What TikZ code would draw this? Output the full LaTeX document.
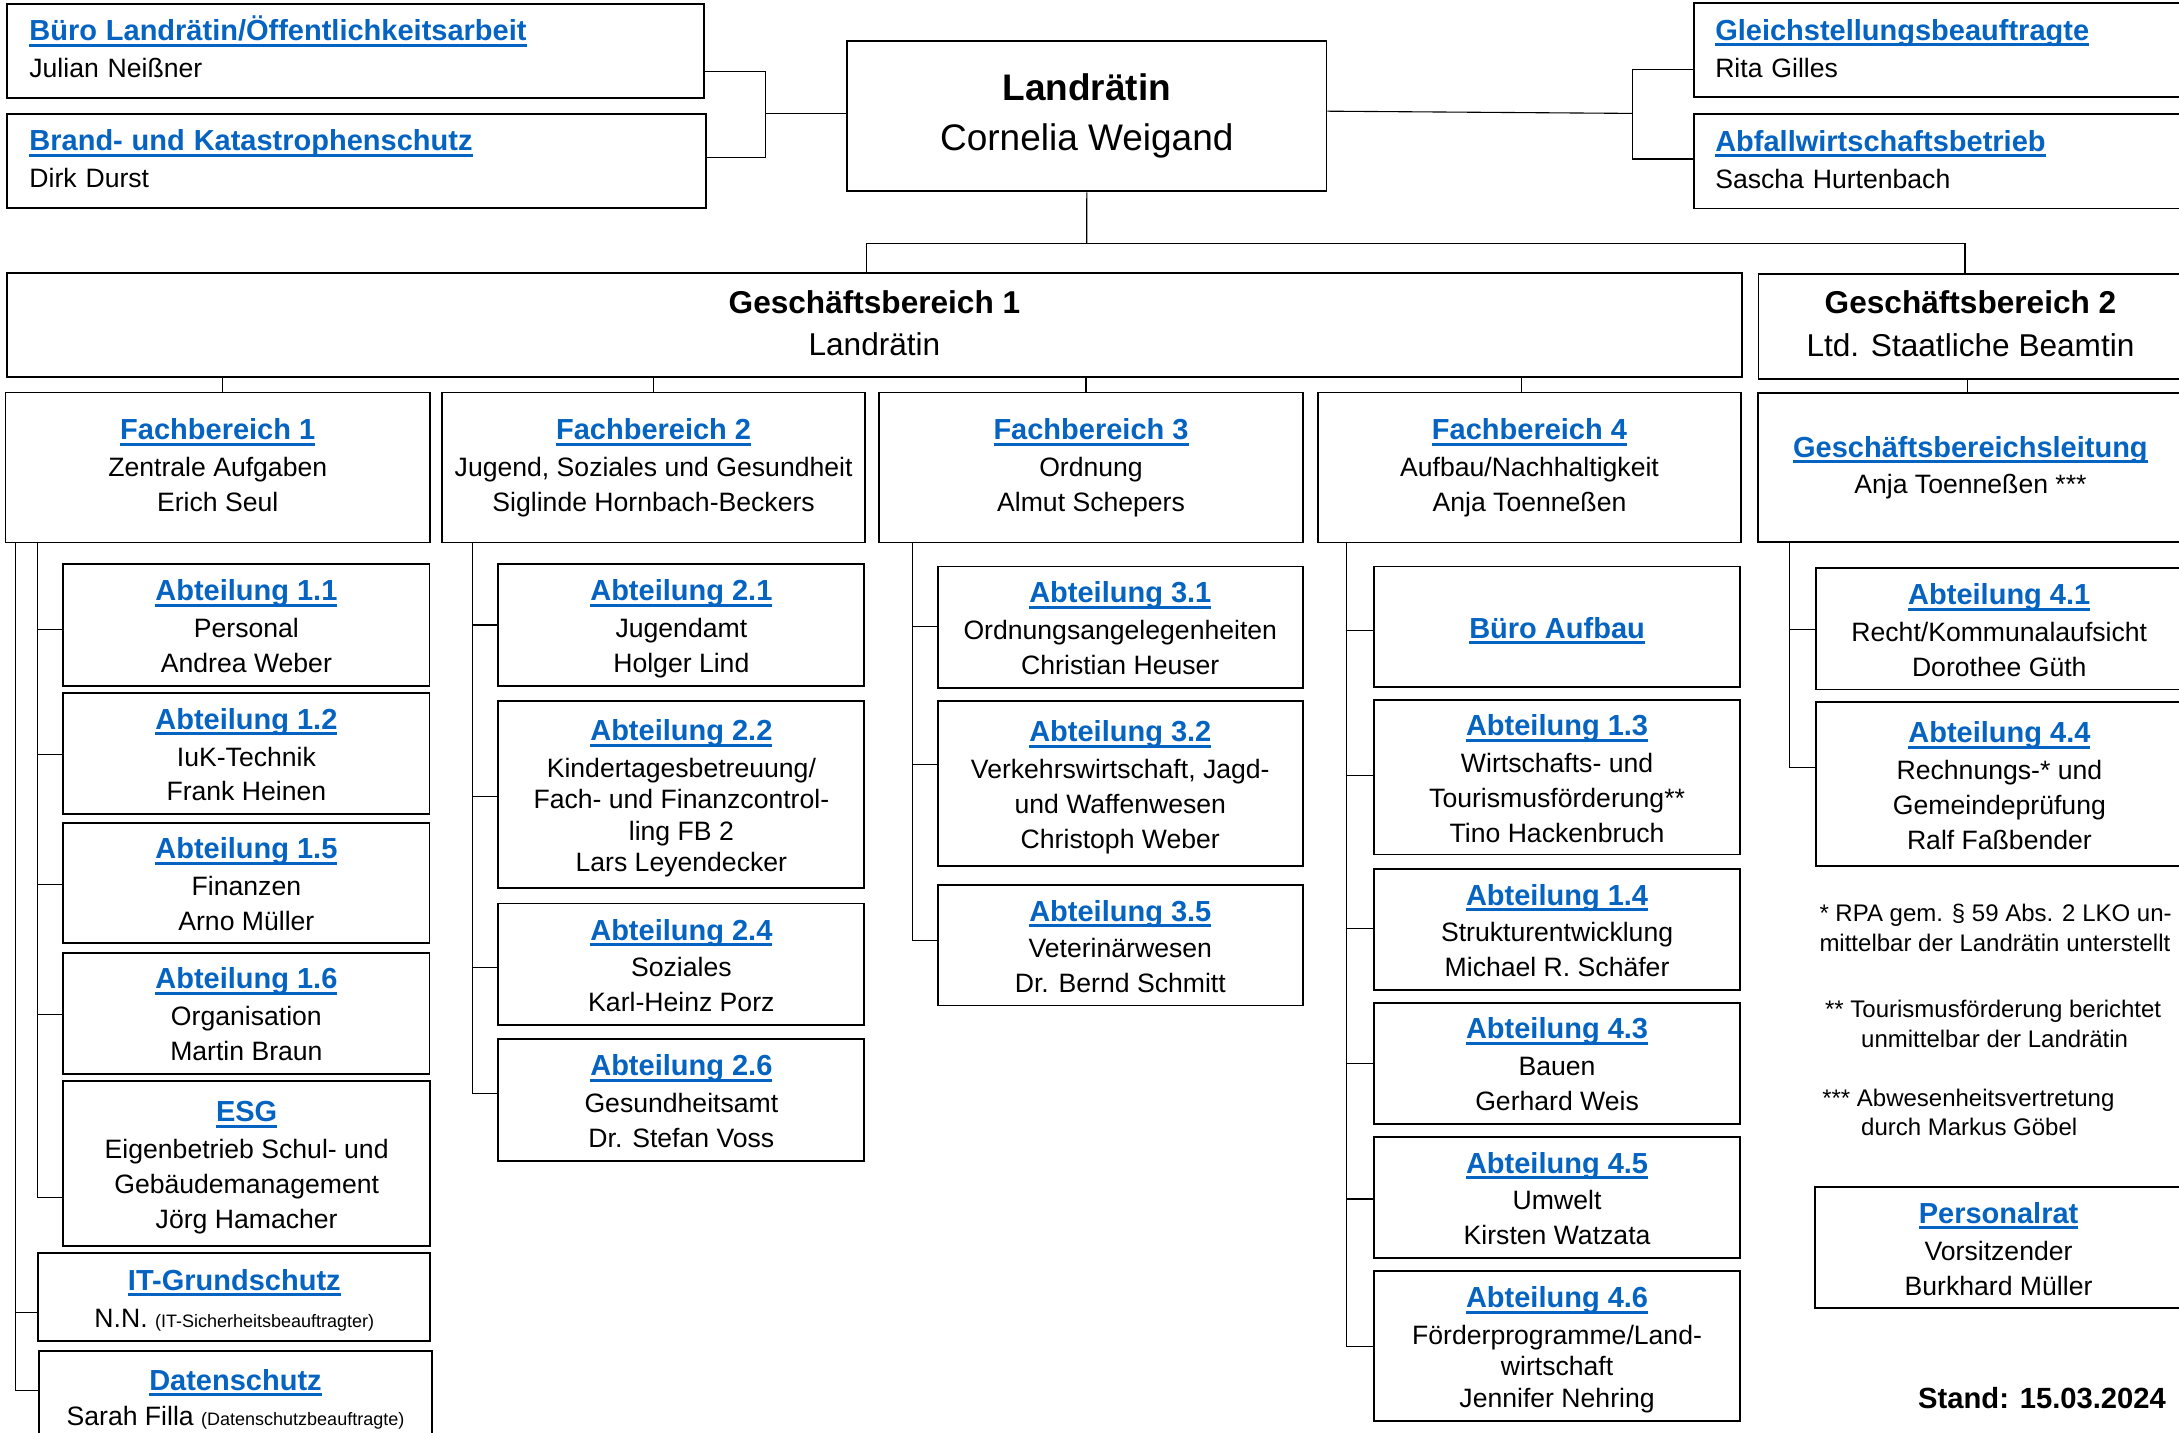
\documentclass[tikz,border=0pt]{standalone}
\usepackage{fontspec}
\setmainfont{Liberation Sans}
\usepackage{xcolor}
\definecolor{lb}{RGB}{5,99,193}
\newsavebox\lkbox
\newcommand\hdf{\fontsize{14.5}{17.4}\selectfont\bfseries}
\newcommand\lk[1]{{\color{lb}\sbox\lkbox{\hdf #1}\usebox\lkbox\llap{\rule[-3pt]{\wd\lkbox}{1.5pt}}}}
\newcommand\smf{\fontsize{9}{11}\selectfont}
\def\U{0.69483}
\def\Hs{0pt}\def\Ds{0pt}
\tikzset{
 box/.style={draw, line width=0.9pt, inner sep=0pt, align=center, font=\fontsize{13.3}{17.4}\selectfont},
 conn/.style={line width=0.55pt},
 fn/.style={anchor=base west, inner sep=0pt, font=\fontsize{12}{15}\selectfont},
}
\newcommand\bx[7][]{%
 \pgfmathsetmacro\BXw{(#5-#3)*\U}\pgfmathsetmacro\BXh{(#6-#4)*\U}%
 \node[box,minimum width=\BXw pt,minimum height=\BXh pt,#1] (#2) at ({(#3+#5)/2},{(#4+#6)/2}) {\rule{0pt}{\Hs}#7\rule[-\Ds]{0pt}{\Ds}};}
\begin{document}
\begin{tikzpicture}[x=0.69483pt,y=-0.69483pt]
\fill[white] (0,0) rectangle (1568,1031);
\useasboundingbox (0,0) rectangle (1568,1031);
% top row
\def\Hs{13.3pt}\def\Ds{5pt}
\bx[align=left,text width=326pt]{buero}{5}{3}{506.5}{70.5}{\lk{Büro Landrätin/Öffentlichkeitsarbeit}\\[1pt]Julian Neißner}
\bx[align=left,text width=327pt]{brand}{5}{82}{508}{149.5}{\lk{Brand- und Katastrophenschutz}\\[1pt]Dirk Durst}
\bx[align=left,text width=223pt]{gleich}{1219}{2.4}{1570.5}{70}{\lk{Gleichstellungsbeauftragte}\\[1pt]Rita Gilles}
\bx[align=left,text width=223pt]{abfall}{1219}{82.3}{1570.5}{150}{\lk{Abfallwirtschaftsbetrieb}\\[1pt]Sascha Hurtenbach}
\def\Hs{0pt}\def\Ds{0pt}
\bx[font=\fontsize{18.5}{25}\selectfont]{lr}{609.6}{29.7}{954.5}{137.7}{\textbf{Landrätin}\\Cornelia Weigand}
% Geschaeftsbereiche
\def\Hs{14pt}\def\Ds{5pt}
\bx[font=\fontsize{15.8}{20.8}\selectfont]{gb1}{5}{196.6}{1253.5}{271.5}{\textbf{Geschäftsbereich 1}\\Landrätin}
\bx[font=\fontsize{15.8}{20.8}\selectfont]{gb2}{1265.4}{197.3}{1570.5}{272.5}{\textbf{Geschäftsbereich 2}\\[0.7pt]Ltd. Staatliche Beamtin}
% Fachbereiche
\def\Hs{13pt}\def\Ds{5pt}
\bx{fb1}{4}{282.4}{309.4}{390.4}{\lk{Fachbereich 1}\\[1pt]Zentrale Aufgaben\\Erich Seul}
\bx{fb2}{318}{282.4}{622.7}{390.4}{\lk{Fachbereich 2}\\[1pt]Jugend, Soziales und Gesundheit\\Siglinde Hornbach-Beckers}
\bx{fb3}{632.7}{282.5}{937.5}{390.4}{\lk{Fachbereich 3}\\[1pt]Ordnung\\Almut Schepers}
\bx{fb4}{948.2}{282.5}{1253}{390.4}{\lk{Fachbereich 4}\\[1pt]Aufbau/Nachhaltigkeit\\Anja Toenneßen}
\bx{gbl}{1265.3}{282.8}{1570.5}{390.1}{\lk{Geschäftsbereichsleitung}\\[1pt]Anja Toenneßen ***}
% column 1
\def\Hs{14.6pt}\def\Ds{3pt}
\bx{a11}{45.6}{406}{309}{493.4}{\lk{Abteilung 1.1}\\[1pt]Personal\\Andrea Weber}
\bx{a12}{45.6}{498.8}{309}{585.7}{\lk{Abteilung 1.2}\\[1pt]IuK-Technik\\Frank Heinen}
\bx{a15}{45.6}{592.2}{309}{678.8}{\lk{Abteilung 1.5}\\[1pt]Finanzen\\Arno Müller}
\bx{a16}{45.6}{685.5}{309}{772.6}{\lk{Abteilung 1.6}\\[1pt]Organisation\\Martin Braun}
\bx{esg}{45.6}{777.6}{309.4}{896.6}{\lk{ESG}\\[1pt]Eigenbetrieb Schul- und\\Gebäudemanagement\\Jörg Hamacher}
\bx{it}{27.5}{901.9}{309.7}{964.7}{\lk{IT-Grundschutz}\\[1pt]N.N. {\smf(IT-Sicherheitsbeauftragter)}}
\bx{ds}{28.3}{972.2}{310.6}{1037}{\lk{Datenschutz}\\Sarah Filla {\smf(Datenschutzbeauftragte)}}
% column 2
\bx{a21}{358.6}{406}{622}{493.6}{\lk{Abteilung 2.1}\\[1pt]Jugendamt\\Holger Lind}
\bx{a22}{358.6}{504.4}{622}{638.9}{\lk{Abteilung 2.2}\\[1pt]Kindertagesbetreuung/\\[-1.8pt]Fach- und Finanzcontrol-\\[-1.8pt]ling FB 2\\[-1.8pt]Lars Leyendecker}
\bx{a24}{358.6}{650.2}{622}{737.6}{\lk{Abteilung 2.4}\\[1pt]Soziales\\Karl-Heinz Porz}
\bx{a26}{358.6}{747.9}{622}{835.2}{\lk{Abteilung 2.6}\\[1pt]Gesundheitsamt\\Dr. Stefan Voss}
% column 3
\bx{a31}{674.8}{407.7}{937.5}{494.8}{\lk{Abteilung 3.1}\\[1pt]Ordnungsangelegenheiten\\Christian Heuser}
\bx{a32}{674.8}{504.2}{937.5}{623.4}{\lk{Abteilung 3.2}\\[1pt]Verkehrswirtschaft, Jagd-\\und Waffenwesen\\Christoph Weber}
\bx{a35}{674.8}{636.8}{937.5}{723.5}{\lk{Abteilung 3.5}\\[1pt]Veterinärwesen\\Dr. Bernd Schmitt}
% column 4
\bx{bau}{988.7}{407.7}{1252.2}{494.5}{\lk{Büro Aufbau}}
\bx{a13}{988.7}{503.9}{1252.2}{614.9}{\lk{Abteilung 1.3}\\[1pt]Wirtschafts- und\\Tourismusförderung**\\Tino Hackenbruch}
\bx{a14}{988.7}{625.1}{1252.2}{712.4}{\lk{Abteilung 1.4}\\[1pt]Strukturentwicklung\\Michael R. Schäfer}
\bx{a43}{988.7}{721.5}{1252.2}{808.6}{\lk{Abteilung 4.3}\\[1pt]Bauen\\Gerhard Weis}
\bx{a45}{988.7}{818.2}{1252.2}{905}{\lk{Abteilung 4.5}\\[1pt]Umwelt\\Kirsten Watzata}
\bx{a46}{988.7}{914.6}{1252.2}{1022.3}{\lk{Abteilung 4.6}\\[1pt]Förderprogramme/Land-\\[-1.8pt]wirtschaft\\[-1.8pt]Jennifer Nehring}
% column 5
\bx{a41}{1306.8}{408.7}{1570.5}{496.1}{\lk{Abteilung 4.1}\\[1pt]Recht/Kommunalaufsicht\\Dorothee Güth}
\bx{a44}{1307}{505.4}{1570.5}{623.3}{\lk{Abteilung 4.4}\\[1pt]Rechnungs-* und\\Gemeindeprüfung\\Ralf Faßbender}
\bx{pr}{1305.8}{854.4}{1570.5}{941.2}{\lk{Personalrat}\\[1pt]Vorsitzender\\Burkhard Müller}
% footnotes
\node[fn] (f1) at (1309,663) {* RPA gem. § 59 Abs. 2 LKO un-};
\node[fn] (f2) at (1309,685) {mittelbar der Landrätin unterstellt};
\node[fn] (f3) at (1313,732) {** Tourismusförderung berichtet};
\node[fn] (f4) at (1339,754) {unmittelbar der Landrätin};
\node[fn] (f5) at (1311,796) {*** Abwesenheitsvertretung};
\node[fn] (f6) at (1339,817) {durch Markus Göbel};
\node[anchor=base west, inner sep=0pt, font=\fontsize{14.6}{17}\selectfont\bfseries] (stand) at (1380,1013.5) {Stand: 15.03.2024};
% connectors top
\coordinate (jl) at (550.7,81.8);
\draw[conn] (buero.east |- 0,51.6) -| (jl) |- (brand.east |- 0,113.5);
\draw[conn] (jl) -- (lr.west |- jl);
\coordinate (jr) at (1174.5,81.6);
\draw[conn] (lr.east |- 0,80) -- (jr);
\draw[conn] (gleich.west |- 0,49.7) -| (jr) |- (abfall.west |- 0,114.4);
\coordinate (jm) at (782,175.4);
\draw[conn] (lr.south) -- (jm);
\draw[conn] (gb1.north -| 623.5,0) |- (jm) -| (gb2.north -| 1414,0);
\foreach \n/\x in {fb1/160, fb2/470.5, fb3/781.5, fb4/1095}
  \draw[conn] (gb1.south -| \x,0) -- (\n.north -| \x,0);
\draw[conn] (gb2.south -| 1416,0) -- (gbl.north -| 1416,0);
% column 1
\draw[conn] (fb1.south -| 27,0) |- (esg.west |- 0,861.8);
\foreach \n/\y in {a11/452.8, a12/543.2, a15/636.5, a16/729.7}
  \draw[conn] (27,\y) -- (\n.west |- 0,\y);
\draw[conn] (fb1.south -| 11.3,0) |- (ds.west |- 0,1000.5);
\draw[conn] (11.3,944.6) -- (it.west |- 0,944.6);
% column 2
\draw[conn] (fb2.south -| 340,0) |- (a26.west |- 0,786.8);
\foreach \n/\y in {a21/449.7, a22/573.4, a24/695.9}
  \draw[conn] (340,\y) -- (\n.west |- 0,\y);
% column 3
\draw[conn] (fb3.south -| 656.6,0) |- (a35.west |- 0,676.9);
\foreach \n/\y in {a31/451, a32/550}
  \draw[conn] (656.6,\y) -- (\n.west |- 0,\y);
% column 4
\draw[conn] (fb4.south -| 969,0) |- (a46.west |- 0,969.1);
\foreach \n/\y in {bau/453.5, a13/558.3, a14/668.1, a43/765.2, a45/862.8}
  \draw[conn] (969,\y) -- (\n.west |- 0,\y);
% column 5
\draw[conn] (gbl.south -| 1288,0) |- (a44.west |- 0,552.3);
\draw[conn] (1288,453) -- (a41.west |- 0,453);
\end{tikzpicture}
\end{document}
